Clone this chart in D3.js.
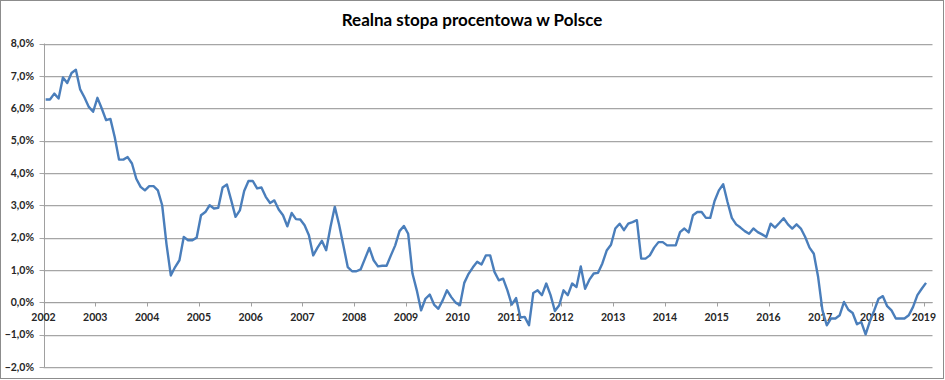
<!DOCTYPE html>
<html>
<head>
<meta charset="utf-8">
<script src="https://cdn.jsdelivr.net/npm/d3@7"></script>
<style>
  html, body { margin: 0; padding: 0; background: #fff; }
  svg { display: block; }
</style>
</head>
<body>
<svg id="chart" width="945" height="380"></svg>
<script>
// ---- data ----
const chartTitle = "Realna stopa procentowa w Polsce";
const startYear = 2002;           // first observation: January 2002, monthly
const yearLabels = [2002, 2003, 2004, 2005, 2006, 2007, 2008, 2009, 2010,
                    2011, 2012, 2013, 2014, 2015, 2016, 2017, 2018, 2019];
const yTickValues = [-2, -1, 0, 1, 2, 3, 4, 5, 6, 7, 8];
// real interest rate (%), monthly Jan 2002 .. Jan 2019
const rateValues = [
  6.27, 6.27, 6.45, 6.30, 6.95, 6.78, 7.09, 7.19, 6.58, 6.33, 6.04, 5.89,   // 2002
  6.32, 5.99, 5.63, 5.67, 5.11, 4.41, 4.41, 4.49, 4.29, 3.82, 3.57, 3.46,   // 2003
  3.59, 3.59, 3.46, 3.00, 1.80, 0.83, 1.09, 1.30, 2.02, 1.92, 1.92, 2.00,   // 2004
  2.69, 2.79, 3.00, 2.90, 2.92, 3.55, 3.64, 3.15, 2.64, 2.84, 3.44, 3.75,   // 2005
  3.75, 3.52, 3.55, 3.26, 3.07, 3.15, 2.87, 2.69, 2.35, 2.76, 2.57, 2.56,   // 2006
  2.38, 2.07, 1.45, 1.69, 1.90, 1.61, 2.33, 2.95, 2.40, 1.75, 1.09, 0.96,   // 2007
  0.96, 1.02, 1.35, 1.68, 1.30, 1.11, 1.13, 1.13, 1.45, 1.76, 2.20, 2.36,   // 2008
  2.12, 0.89, 0.37, -0.25, 0.11, 0.24, -0.07, -0.20, 0.06, 0.37, 0.16, -0.01, // 2009
  -0.09, 0.60, 0.88, 1.08, 1.25, 1.17, 1.45, 1.45, 0.94, 0.68, 0.73, 0.37,  // 2010
  -0.07, 0.13, -0.47, -0.45, -0.71, 0.29, 0.37, 0.22, 0.58, 0.22, -0.27, -0.09, // 2011
  0.37, 0.22, 0.58, 0.47, 1.11, 0.42, 0.70, 0.89, 0.91, 1.20, 1.60, 1.78,   // 2012
  2.28, 2.43, 2.23, 2.43, 2.48, 2.54, 1.35, 1.35, 1.45, 1.69, 1.86, 1.86,   // 2013
  1.76, 1.76, 1.76, 2.17, 2.28, 2.16, 2.69, 2.79, 2.79, 2.61, 2.61, 3.13,   // 2014
  3.46, 3.65, 3.10, 2.61, 2.41, 2.31, 2.20, 2.12, 2.28, 2.17, 2.10, 2.02,   // 2015
  2.43, 2.31, 2.45, 2.60, 2.41, 2.28, 2.41, 2.28, 2.02, 1.69, 1.50, 0.78,   // 2016
  -0.25, -0.71, -0.50, -0.50, -0.40, 0.01, -0.23, -0.33, -0.68, -0.61, -0.99, -0.58, // 2017
  -0.25, 0.11, 0.19, -0.12, -0.25, -0.50, -0.50, -0.50, -0.40, -0.14, 0.22, 0.42, // 2018
  0.60                                                                      // 2019
];

// ---- layout ----
const W = 945, H = 380;
const plot = { left: 43.5, right: 932.5, top: 43.5, bottom: 367 };
const svg = d3.select("#chart");
const font = "Lato, 'Open Sans', sans-serif";

// outer border
svg.append("rect")
  .attr("x", 0.5).attr("y", 0.5)
  .attr("width", W - 2).attr("height", H - 2)
  .attr("fill", "#fff").attr("stroke", "#8c8c8c").attr("stroke-width", 1);

const nMonths = rateValues.length + 1;
const x = d3.scaleLinear()
  .domain([startYear, startYear + nMonths / 12])
  .range([plot.left, plot.right]);
const y = d3.scaleLinear()
  .domain([d3.min(yTickValues), d3.max(yTickValues)])
  .range([plot.bottom, plot.top]);

const locale = d3.formatLocale({ decimal: ",", thousands: " ", grouping: [3], currency: ["", " zł"] });
const fmt = locale.format(".1f");

// horizontal gridlines
svg.append("g")
  .selectAll("line")
  .data(yTickValues)
  .join("line")
  .attr("x1", plot.left - 4)
  .attr("x2", plot.right)
  .attr("y1", d => Math.round(y(d)) + 0.5)
  .attr("y2", d => Math.round(y(d)) + 0.5)
  .attr("stroke", "#a6a6a6")
  .attr("stroke-width", 1);
svg.append("g")
  .selectAll("line")
  .data(yTickValues)
  .join("line")
  .attr("x1", plot.left)
  .attr("x2", plot.right)
  .attr("y1", d => Math.round(y(d)) + 1.5)
  .attr("y2", d => Math.round(y(d)) + 1.5)
  .attr("stroke", "#e8e8e8")
  .attr("stroke-width", 1);

// y axis line
svg.append("line")
  .attr("x1", Math.round(plot.left) + 0.5).attr("x2", Math.round(plot.left) + 0.5)
  .attr("y1", y(d3.max(yTickValues))).attr("y2", y(d3.min(yTickValues)))
  .attr("stroke", "#a0a0a0").attr("stroke-width", 1);

// y labels
svg.append("g")
  .selectAll("text")
  .data(yTickValues)
  .join("text")
  .attr("x", 34)
  .attr("y", d => y(d))
  .attr("dy", "0.35em")
  .attr("text-anchor", "end")
  .attr("font-family", font)
  .attr("font-weight", "bold")
  .attr("font-size", "10.5px")
  .attr("fill", "#262626")
  .text(d => fmt(d) + "%");

// x axis at zero
const zeroY = Math.round(y(0)) + 0.5;
svg.append("line")
  .attr("x1", plot.left).attr("x2", plot.right)
  .attr("y1", zeroY).attr("y2", zeroY)
  .attr("stroke", "#a0a0a0").attr("stroke-width", 1);
svg.append("g")
  .selectAll("line")
  .data(yearLabels)
  .join("line")
  .attr("x1", d => Math.round(x(d)) + 0.5)
  .attr("x2", d => Math.round(x(d)) + 0.5)
  .attr("y1", zeroY)
  .attr("y2", zeroY + 4)
  .attr("stroke", "#a0a0a0");
svg.append("g")
  .selectAll("text")
  .data(yearLabels)
  .join("text")
  .attr("x", d => x(d))
  .attr("y", zeroY + 18)
  .attr("text-anchor", "middle")
  .attr("font-family", font)
  .attr("font-weight", "bold")
  .attr("font-size", "10.5px")
  .attr("fill", "#262626")
  .text(d => d);

// line
const line = d3.line()
  .x((d, i) => x(startYear + (i + 0.5) / 12))
  .y(d => y(d));
svg.append("path")
  .datum(rateValues)
  .attr("d", line)
  .attr("fill", "none")
  .attr("stroke", "#4a7ebb")
  .attr("stroke-width", 2.4)
  .attr("stroke-linejoin", "round");

// title
svg.append("text")
  .attr("x", 472)
  .attr("y", 26)
  .attr("text-anchor", "middle")
  .attr("font-family", font)
  .attr("font-weight", "bold")
  .attr("font-size", "17px")
  .attr("fill", "#000")
  .text(chartTitle);
</script>
</body>
</html>
